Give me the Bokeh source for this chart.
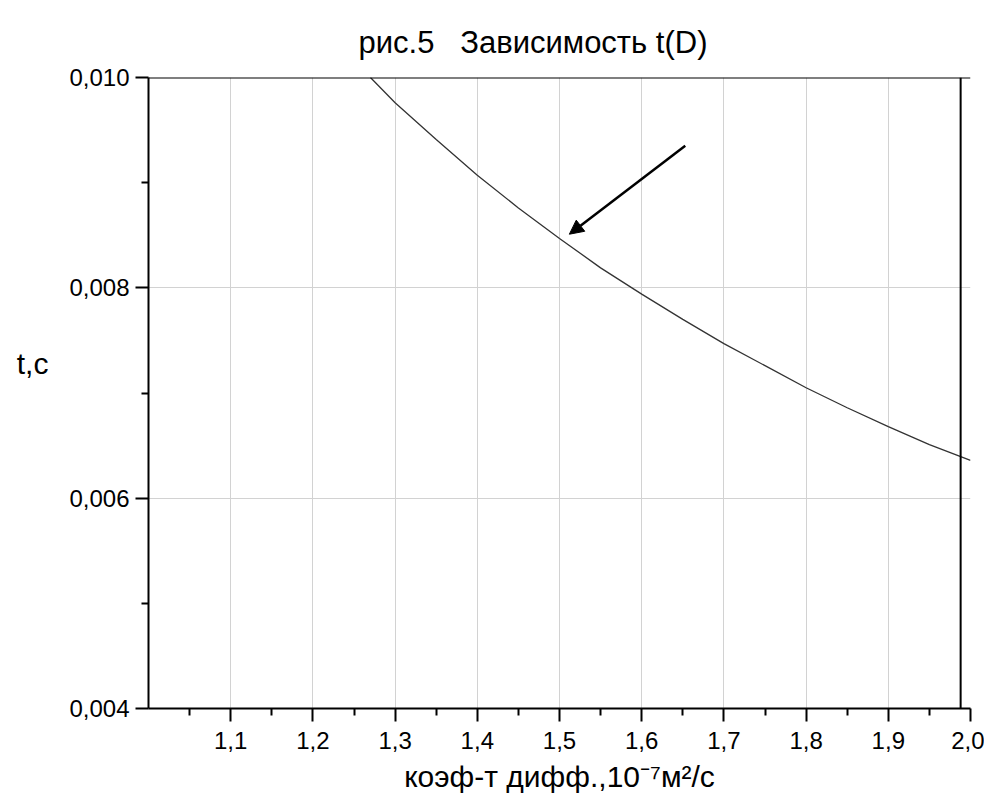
from bokeh.plotting import figure
from bokeh.models import (FixedTicker, CustomJSTickFormatter, Span, Arrow, NormalHead, Title)
from bokeh.embed import file_html
from bokeh.resources import INLINE

# ---- data ----
D_values = [1.27, 1.30, 1.35, 1.40, 1.45, 1.50, 1.55, 1.60, 1.65, 1.70,
            1.75, 1.80, 1.85, 1.90, 1.95, 2.00]
t_values = [0.01000, 0.00976, 0.00941, 0.00907, 0.00876, 0.00847, 0.00819,
            0.00794, 0.00770, 0.00747, 0.00726, 0.00705, 0.00686, 0.00668,
            0.00651, 0.00636]

x_major_ticks = [1.1, 1.2, 1.3, 1.4, 1.5, 1.6, 1.7, 1.8, 1.9, 2.0]
x_minor_ticks = [1.05, 1.15, 1.25, 1.35, 1.45, 1.55, 1.65, 1.75, 1.85, 1.95]
x_grid_ticks = [1.1, 1.2, 1.3, 1.4, 1.5, 1.6, 1.7, 1.8, 1.9]
y_major_ticks = [0.004, 0.006, 0.008, 0.010]
y_minor_ticks = [0.005, 0.007, 0.009]
y_grid_ticks = [0.006, 0.008]

arrow_start = (1.653, 0.00935)
arrow_end = (1.512, 0.00851)
right_border_x = 1.988

title_text = "рис.5\u00a0\u00a0\u00a0Зависимость t(D)"
x_label = "коэф-т дифф.,10⁻⁷м²/с"
y_label = "t,с\n\u00a0"

FONT = "Liberation Sans"

p = figure(output_backend="svg", toolbar_location=None,
           frame_width=822, frame_height=631,
           min_border_left=148, min_border_right=14,
           min_border_top=77, min_border_bottom=88,
           x_range=(1.0, 2.0), y_range=(0.004, 0.010),
           background_fill_color="white", border_fill_color="white")
p.outline_line_color = None

p.title = Title(text=title_text, align="left", offset=210,
                text_font=FONT, text_font_size="31px", vertical_align="top",
                text_font_style="normal", text_color="black", standoff=32)

# axes
for ax in (p.xaxis[0], p.yaxis[0]):
    ax.axis_line_width = 2
    ax.axis_line_color = "black"
    ax.major_tick_line_width = 2
    ax.minor_tick_line_width = 2
    ax.major_tick_line_color = "black"
    ax.minor_tick_line_color = "black"
    ax.major_tick_in = 0
    ax.major_tick_out = 13
    ax.minor_tick_in = 0
    ax.minor_tick_out = 7
    ax.major_label_text_font = FONT
    ax.major_label_text_font_size = "24px"
    ax.major_label_text_color = "black"
    ax.axis_label_text_font = FONT
    ax.axis_label_text_font_size = "30px"
    ax.axis_label_text_font_style = "normal"
    ax.axis_label_text_color = "black"

p.xaxis[0].ticker = FixedTicker(ticks=x_major_ticks, minor_ticks=x_minor_ticks)
p.yaxis[0].ticker = FixedTicker(ticks=y_major_ticks, minor_ticks=y_minor_ticks)
p.xaxis[0].formatter = CustomJSTickFormatter(code="return tick.toFixed(1).replace('.', ',');")
p.yaxis[0].formatter = CustomJSTickFormatter(code="return tick.toFixed(3).replace('.', ',');")
p.xaxis[0].major_label_standoff = 10
p.yaxis[0].major_label_standoff = 6
p.xaxis[0].axis_label = x_label
p.xaxis[0].axis_label_standoff = 8
p.yaxis[0].axis_label = y_label
p.yaxis[0].axis_label_orientation = "horizontal"
p.yaxis[0].axis_label_standoff = 18
p.yaxis[0].axis_label_text_line_height = 1.8

# grids
p.xgrid[0].ticker = FixedTicker(ticks=x_grid_ticks)
p.ygrid[0].ticker = FixedTicker(ticks=y_grid_ticks)
for g in (p.xgrid[0], p.ygrid[0]):
    g.grid_line_color = "#d2d2d2"
    g.grid_line_width = 1

# frame borders (top and right)
p.add_layout(Span(location=0.010, dimension="width", line_color="black", line_width=2))
p.add_layout(Span(location=right_border_x, dimension="height", line_color="black", line_width=2))

# curve
p.line(D_values, t_values, line_color="#333333", line_width=1.3)

# arrow
p.add_layout(Arrow(end=NormalHead(size=14, fill_color="black", line_color="black", line_width=1),
                   x_start=arrow_start[0], y_start=arrow_start[1],
                   x_end=arrow_end[0], y_end=arrow_end[1],
                   line_width=2.5, line_color="black"))

open("out.html", "w").write(file_html(p, INLINE))
